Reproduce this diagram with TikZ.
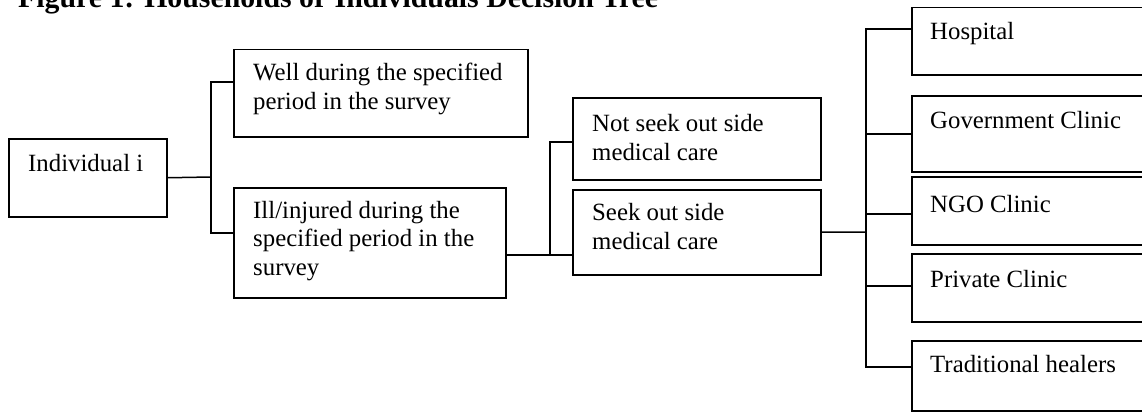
\documentclass[tikz,border=0pt]{standalone}
\usepackage{fontspec}
\setmainfont{Liberation Serif}
\begin{document}
\begin{tikzpicture}[x=1pt,y=-1pt,
  box/.style={draw, line width=1.5pt, inner sep=0pt, anchor=north west},
  txt/.style={font=\fontsize{24.8}{28.7}\selectfont, inner sep=0pt, anchor=base west, align=left},
  conn/.style={line width=1.5pt}]
\useasboundingbox (0,0) rectangle (1142,412);
\node[font=\bfseries\fontsize{29.8}{32}\selectfont, anchor=base west, inner sep=0pt] (title) at (18,8) {Figure 1: Households or Individuals Decision Tree};
% boxes
\node[box, minimum width=158, minimum height=78] (ind) at (8,138) {};
\node[box, minimum width=294, minimum height=87] (well) at (233,49) {};
\node[box, minimum width=272, minimum height=110] (ill) at (233,187) {};
\node[box, minimum width=248, minimum height=82] (not) at (572,97) {};
\node[box, minimum width=248, minimum height=85] (seek) at (572,189) {};
\node[box, minimum width=260, minimum height=67] (hosp) at (911,7) {};
\node[box, minimum width=260, minimum height=76] (gov) at (911,95) {};
\node[box, minimum width=260, minimum height=68] (ngo) at (911,176) {};
\node[box, minimum width=260, minimum height=68] (priv) at (911,253) {};
\node[box, minimum width=260, minimum height=70] (trad) at (911,340) {};
% texts (base = baseline of last line)
\node[txt] (tind) at (28,171.5) {Individual i};
\node[txt] (twell) at (253,109) {Well during the specified\\period in the survey};
\node[txt] (till) at (253,275.5) {Ill/injured during the\\specified period in the\\survey};
\node[txt] (tnot) at (592,160) {Not seek out side\\medical care};
\node[txt] (tseek) at (592,249) {Seek out side\\medical care};
\node[txt] (thosp) at (930,40) {Hospital};
\node[txt] (tgov) at (930,128) {Government Clinic};
\node[txt] (tngo) at (930,212) {NGO Clinic};
\node[txt] (tpriv) at (930,287) {Private Clinic};
\node[txt] (ttrad) at (930,372.5) {Traditional healers};
% connectors
\coordinate (j1) at (211,177);
\coordinate (a1) at (211,82);
\coordinate (a2) at (211,233);
\draw[conn] (ind.east) -- (j1);
\draw[conn] (a1 -| well.west) -- (a1) -- (a2) -- (a2 -| ill.west);
\coordinate (b0) at (550,255);
\coordinate (b1) at (550,142);
\draw[conn] (b0 -| ill.east) -- (b0 -| seek.west);
\draw[conn] (b0) -- (b1) -- (b1 -| not.west);
\coordinate (c0) at (866,232);
\coordinate (c1) at (866,29);
\coordinate (c2) at (866,134);
\coordinate (c3) at (866,214);
\coordinate (c4) at (866,286);
\coordinate (c5) at (866,367);
\draw[conn] (seek.east) -- (c0);
\draw[conn] (c1 -| hosp.west) -- (c1) -- (c5) -- (c5 -| trad.west);
\draw[conn] (c2) -- (c2 -| gov.west);
\draw[conn] (c3) -- (c3 -| ngo.west);
\draw[conn] (c4) -- (c4 -| priv.west);
\end{tikzpicture}
\end{document}
